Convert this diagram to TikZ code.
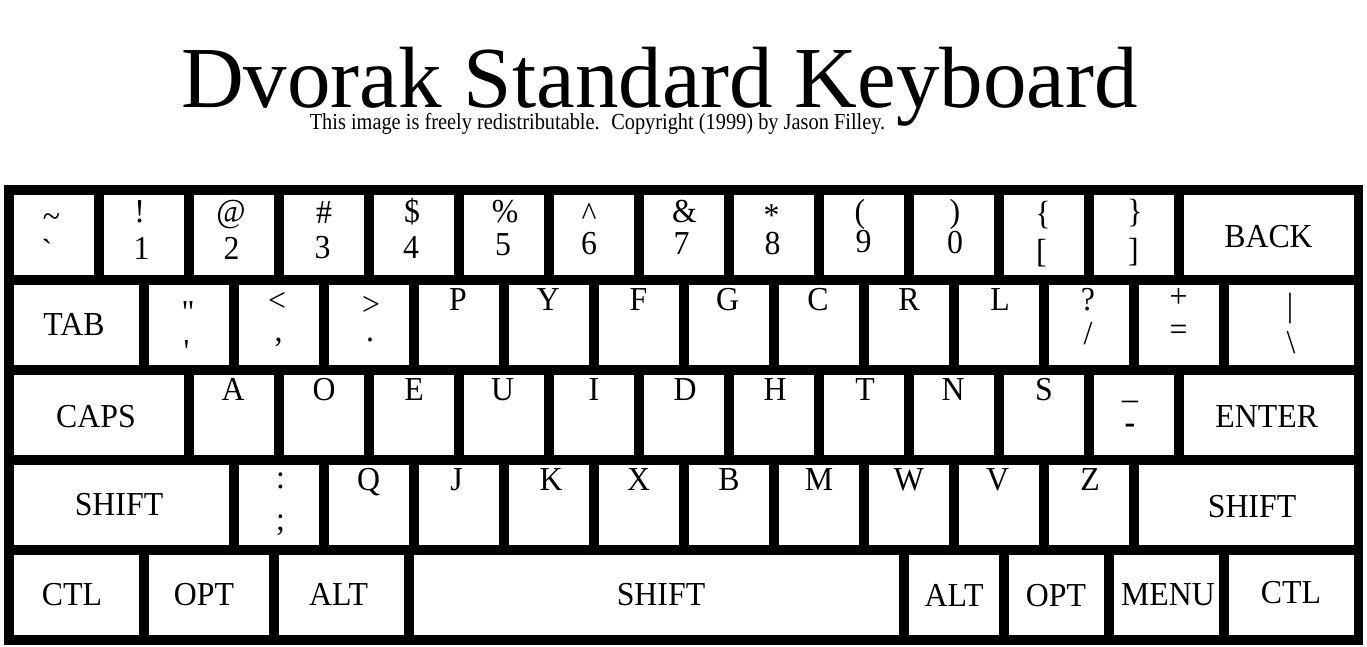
\documentclass[tikz,border=0pt]{standalone}
\usepackage{fontspec}
\setmainfont{Liberation Serif}
\newfontfamily\keyfont[FakeStretch=0.95]{Liberation Serif}
\newfontfamily\subfont[FakeStretch=0.885]{Liberation Serif}
\begin{document}
\begin{tikzpicture}[x=1pt,y=-1pt,
  keybox/.style={fill=white,draw=none,inner sep=0pt,outer sep=0pt,minimum height=80pt,anchor=north west},
  lbl/.style={anchor=base,inner sep=0pt,outer sep=0pt,font=\keyfont\fontsize{33.5}{33.5}\selectfont},
  ]
\useasboundingbox (0,0) rectangle (1367,646);
\fill[white] (0,0) rectangle (1367,646);
% title
\node[anchor=base,inner sep=0pt,font=\fontsize{87}{87}\selectfont] (title) at (659.5,107) {Dvorak Standard Keyboard};
\node[anchor=base,inner sep=0pt,font=\subfont\fontsize{23}{23}\selectfont] (sub) at (597.5,129) {\frenchspacing This image is freely redistributable.\hspace{0.5em}Copyright (1999) by Jason Filley.};
% board
\node[fill=black,draw=none,anchor=north west,inner sep=0pt,outer sep=0pt,minimum width=1359pt,minimum height=460pt] (board) at (4,185) {};
% row 1
\node[keybox,minimum width=80pt] (ktilde) at (14,195) {};
\foreach \n [count=\i from 0] in {1,2,3,4,5,6,7,8,9,0,lb,rb}
  \node[keybox,minimum width=80pt] (k\n) at (104+90*\i,195) {};
\node[keybox,minimum width=170pt] (kback) at (1184,195) {};
% row 2
\node[keybox,minimum width=125pt] (ktab) at (14,285) {};
\foreach \n [count=\i from 0] in {quote,comma,period,P,Y,F,G,C,R,L,slash,equal}
  \node[keybox,minimum width=80pt] (k\n) at (149+90*\i,285) {};
\node[keybox,minimum width=125pt] (kbslash) at (1229,285) {};
% row 3
\node[keybox,minimum width=170pt] (kcaps) at (14,375) {};
\foreach \n [count=\i from 0] in {A,O,E,U,I,D,H,T,N,S,minus}
  \node[keybox,minimum width=80pt] (k\n) at (194+90*\i,375) {};
\node[keybox,minimum width=170pt] (kenter) at (1184,375) {};
% row 4
\node[keybox,minimum width=215pt] (klshift) at (14,465) {};
\foreach \n [count=\i from 0] in {semi,Q,J,K,X,B,M,W,V,Z}
  \node[keybox,minimum width=80pt] (k\n) at (239+90*\i,465) {};
\node[keybox,minimum width=215pt] (krshift) at (1139,465) {};
% row 5
\node[keybox,minimum width=125pt] (klctl) at (14,555) {};
\node[keybox,minimum width=120pt] (klopt) at (149,555) {};
\node[keybox,minimum width=125pt] (klalt) at (279,555) {};
\node[keybox,minimum width=485pt] (kspace) at (414,555) {};
\node[keybox,minimum width=90pt] (kralt) at (909,555) {};
\node[keybox,minimum width=95pt] (kropt) at (1009,555) {};
\node[keybox,minimum width=105pt] (kmenu) at (1114,555) {};
\node[keybox,minimum width=125pt] (krctl) at (1229,555) {};

% ---- labels row 1
\node[lbl] (l-tilde) at (51.5,227.5) {\symbol{"7E}};
\node[lbl] (l-grave) at (47,262) {\symbol{"60}};
\node[lbl] (l-excl) at (139.7,222) {!};
\node[lbl] (l-1) at (141.7,259) {1};
\node[lbl] (l-at) at (231,222) {@};
\node[lbl] (l-2) at (231.5,259) {2};
\node[lbl] (l-hash) at (324,223) {\#};
\node[lbl] (l-3) at (322.5,258) {3};
\node[lbl] (l-dollar) at (412,222) {\$};
\node[lbl] (l-4) at (411,258) {4};
\node[lbl] (l-pct) at (505,222) {\%};
\node[lbl] (l-5) at (503,255) {5};
\node[lbl] (l-caret) at (589,225) {\symbol{"5E}};
\node[lbl] (l-6) at (589,254) {6};
\node[lbl] (l-amp) at (684.5,222) {\&};
\node[lbl] (l-7) at (681.5,254) {7};
\node[lbl] (l-star) at (771.5,226) {*};
\node[lbl] (l-8) at (772.5,254) {8};
\node[lbl] (l-lpar) at (860,222) {(};
\node[lbl] (l-9) at (863.5,252) {9};
\node[lbl] (l-rpar) at (955,222) {)};
\node[lbl] (l-0) at (955,253) {0};
\node[lbl] (l-lbrace) at (1043,224) {\{};
\node[lbl] (l-lbrack) at (1041.5,262) {[};
\node[lbl] (l-rbrace) at (1135,222) {\}};
\node[lbl] (l-rbrack) at (1133.5,261) {]};
\node[lbl] (l-back) at (1268.5,247) {BACK};
% ---- labels row 2
\node[lbl] (l-tab) at (74,335) {TAB};
\node[lbl] (l-dquote) at (188,323) {\symbol{"22}};
\node[lbl] (l-squote) at (186.5,362) {\symbol{"27}};
\node[lbl] (l-less) at (277,311.5) {<};
\node[lbl] (l-comma) at (278.5,341) {,};
\node[lbl] (l-greater) at (371,315) {>};
\node[lbl] (l-period) at (370,341) {.};
\node[lbl] (l-P) at (458,310) {P};
\node[lbl] (l-Y) at (548,310) {Y};
\node[lbl] (l-F) at (638.5,310) {F};
\node[lbl] (l-G) at (727.5,310) {G};
\node[lbl] (l-C) at (818,310) {C};
\node[lbl] (l-R) at (909,310) {R};
\node[lbl] (l-L) at (1000,310) {L};
\node[lbl] (l-quest) at (1088,310) {?};
\node[lbl] (l-slash) at (1088,344.5) {/};
\node[lbl] (l-plus) at (1178.5,307) {+};
\node[lbl] (l-equal) at (1178.5,340) {=};
\node[lbl] (l-bar) at (1290,316) {\symbol{"7C}};
\node[lbl] (l-bslash) at (1291,353) {\symbol{"5C}};
% ---- labels row 3
\node[lbl] (l-caps) at (96,427) {CAPS};
\foreach \n/\x in {A/233,O/324,E/414,U/502.5,I/594,D/685,H/775,T/865,N/953,S/1044}
  \node[lbl] (l-\n) at (\x,400) {\n};
\node[lbl] (l-under) at (1130,398) {\symbol{"5F}};
\node[lbl] (l-hyphen) at (1130,433) {\textbf{-}};
\node[lbl] (l-enter) at (1266.7,427) {ENTER};
% ---- labels row 4
\node[lbl] (l-lshift) at (119,515) {SHIFT};
\node[lbl] (l-colon) at (280.5,488) {:};
\node[lbl] (l-semi) at (280.5,530) {;};
\foreach \n/\x in {Q/368.5,J/456.5,K/551,X/638.5,B/729,M/819,W/909,V/997.5,Z/1090}
  \node[lbl] (l-\n) at (\x,490) {\n};
\node[lbl] (l-rshift) at (1252,517) {SHIFT};
% ---- labels row 5
\node[lbl] (l-lctl) at (72,605) {CTL};
\node[lbl] (l-lopt) at (204,605) {OPT};
\node[lbl] (l-lalt) at (338.5,605) {ALT};
\node[lbl] (l-space) at (661,605) {SHIFT};
\node[lbl] (l-ralt) at (954,606) {ALT};
\node[lbl] (l-ropt) at (1056,606) {OPT};
\node[lbl] (l-menu) at (1168,605) {MENU};
\node[lbl] (l-rctl) at (1291,603) {CTL};
\end{tikzpicture}
\end{document}
